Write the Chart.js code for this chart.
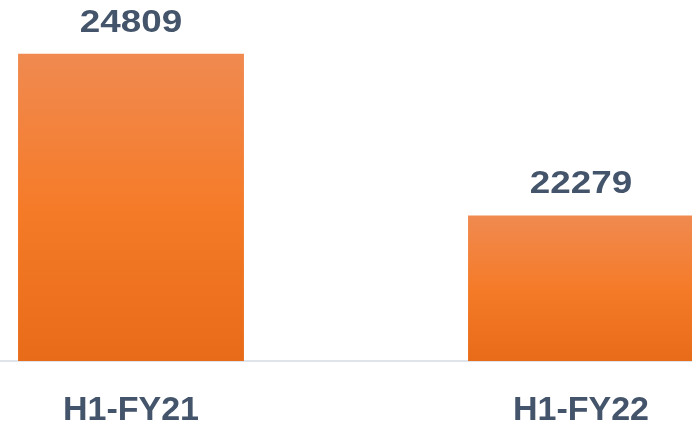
<!DOCTYPE html>
<html>
<head>
<meta charset="utf-8">
<script src="https://cdn.jsdelivr.net/npm/chart.js@4"></script>
<style>
  html, body { margin: 0; padding: 0; background: #fff; overflow: hidden; }
  #wrap { position: relative; width: 692px; height: 424px; overflow: hidden; }
  #chart { position: absolute; left: -94px; top: 0; }
</style>
</head>
<body>
<div id="wrap">
  <canvas id="chart" width="900" height="424"></canvas>
</div>
<script>
const categories = ["H1-FY21", "H1-FY22"];
const values = [24809, 22279];
const yMin = 20000;
const yMax = 25650;

const textColor = "#44546A";

// orange gradient per bar, top lighter, bottom darker
function barGradient(c) {
  const chart = c.chart;
  const y = chart.scales.y;
  if (!chart.chartArea || !y || c.raw == null) return "#F47B28";
  const top = y.getPixelForValue(c.raw);
  const bottom = y.getPixelForValue(yMin);
  if (!isFinite(top) || !isFinite(bottom) || top >= bottom) return "#F47B28";
  const g = chart.ctx.createLinearGradient(0, top, 0, bottom);
  g.addColorStop(0, "#F08A50");
  g.addColorStop(0.5, "#F57B29");
  g.addColorStop(1, "#E86B19");
  return g;
}

// value labels above bars (text is a bit stretched, like the original)
const valueLabels = {
  id: "valueLabels",
  afterDatasetsDraw(chart) {
    const ctx = chart.ctx;
    const meta = chart.getDatasetMeta(0);
    ctx.save();
    ctx.fillStyle = textColor;
    ctx.font = "bold 32px 'Liberation Sans', Arial, sans-serif";
    ctx.textAlign = "center";
    ctx.textBaseline = "middle";
    meta.data.forEach((bar, i) => {
      ctx.save();
      ctx.translate(bar.x, bar.y - 31);
      ctx.scale(1.15, 1);
      ctx.fillText(String(values[i]), 0, 0);
      ctx.restore();
    });
    ctx.restore();
  },
};

new Chart(document.getElementById("chart"), {
  type: "bar",
  data: {
    labels: categories,
    datasets: [
      {
        data: values,
        backgroundColor: barGradient,
        borderWidth: 0,
        categoryPercentage: 1,
        barPercentage: 0.502,
      },
    ],
  },
  options: {
    responsive: false,
    animation: false,
    layout: { padding: 0 },
    plugins: {
      legend: { display: false },
      tooltip: { enabled: false },
    },
    scales: {
      x: {
        grid: { display: false, drawTicks: false },
        border: { display: true, color: "#DFE4EA", width: 2 },
        ticks: {
          color: textColor,
          padding: 33,
          font: { family: "'Liberation Sans', Arial, sans-serif", size: 34, weight: "bold", lineHeight: 1.0 },
        },
        afterFit(scale) {
          scale.height = 63;
        },
      },
      y: {
        display: false,
        min: yMin,
        max: yMax,
      },
    },
  },
  plugins: [valueLabels],
});
</script>
</body>
</html>
